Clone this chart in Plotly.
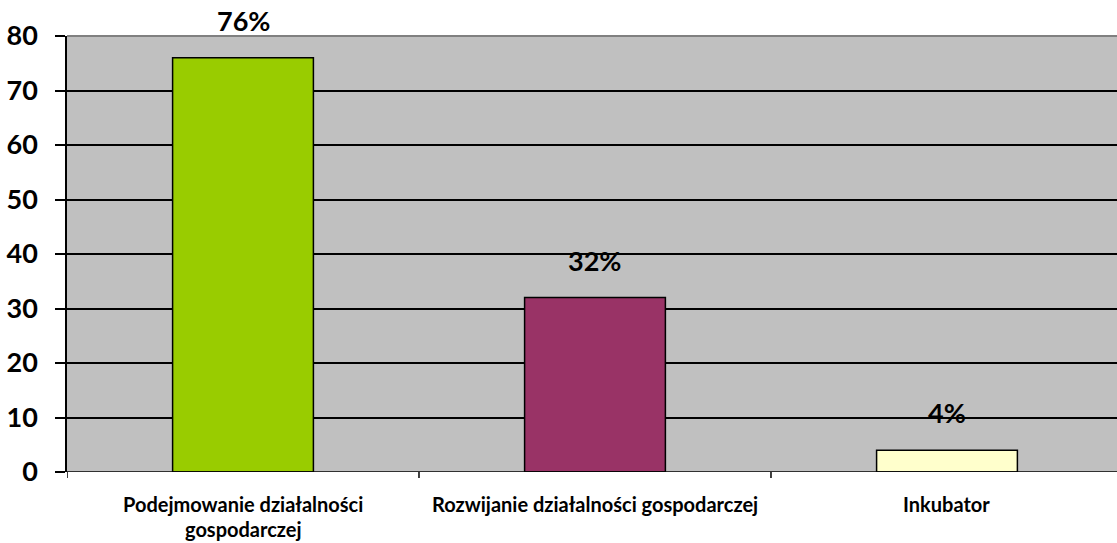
import plotly.graph_objects as go

categories = ["Podejmowanie działalności\ngospodarczej",
              "Rozwijanie działalności gospodarczej",
              "Inkubator"]
values = [76, 32, 4]
value_labels = ["76%", "32%", "4%"]
bar_colors = ["#99CC00", "#993366", "#FFFFCC"]
y_ticks = [0, 10, 20, 30, 40, 50, 60, 70, 80]

FONT = "Lato"

fig = go.Figure()
fig.add_trace(go.Bar(
    x=list(range(len(categories))),
    y=values,
    width=0.4,
    marker=dict(color=bar_colors, line=dict(color="black", width=1.5)),
    showlegend=False,
    hoverinfo="skip",
))

annotations = []
# value labels above the bars
for i, (v, t) in enumerate(zip(values, value_labels)):
    annotations.append(dict(
        x=i, y=v, xref="x", yref="y", text=t, showarrow=False,
        yanchor="bottom", yshift=19,
        font=dict(family=FONT, size=27, color="black", weight="bold"),
    ))

# category labels below the axis, one annotation per line for Excel-like spacing
for i, cat in enumerate(categories):
    for j, line in enumerate(cat.split("\n")):
        annotations.append(dict(
            x=i, y=0, xref="x", yref="paper", text=line, showarrow=False,
            yanchor="middle", yshift=-32 - 25 * j,
            font=dict(family=FONT, size=20, color="black", weight="bold"),
        ))

fig.update_layout(
    width=1117, height=543,
    paper_bgcolor="white",
    plot_bgcolor="#C0C0C0",
    margin=dict(l=67, r=0, t=36, b=71),
    font=dict(family=FONT, color="black"),
    annotations=annotations,
    xaxis=dict(
        range=[-0.5, 2.483],
        tickmode="array",
        tickvals=[0, 1, 2, 3],
        showticklabels=False,
        ticks="",
        showgrid=False,
        zeroline=False,
        showline=False,
    ),
    yaxis=dict(
        range=[0, 80],
        tickvals=y_ticks,
        ticks="outside", ticklen=10, tickwidth=1.5, tickcolor="black",
        ticklabelstandoff=12,
        tickfont=dict(family=FONT, size=27, color="black", weight="bold"),
        showgrid=True, gridcolor="black", gridwidth=1.5,
        zeroline=False,
        showline=True, linecolor="black", linewidth=1.5,
    ),
    shapes=[
        # top border of the plot area
        dict(type="line", xref="paper", yref="paper", x0=0, x1=1, y0=1, y1=1,
             line=dict(color="#808080", width=2)),
        # category axis baseline
        dict(type="line", xref="paper", yref="y", x0=0, x1=1, y0=0, y1=0,
             line=dict(color="black", width=1.5)),
    ] + [
        # category boundary tick marks
        dict(type="line", xref="x", yref="paper", x0=b, x1=b, y0=0, y1=-0.014,
             line=dict(color="black", width=1.5))
        for b in [-0.5, 0.5, 1.5]
    ],
)

fig.write_html("out.html", config={"displayModeBar": False},
               post_script="document.body.style.margin='0';")
